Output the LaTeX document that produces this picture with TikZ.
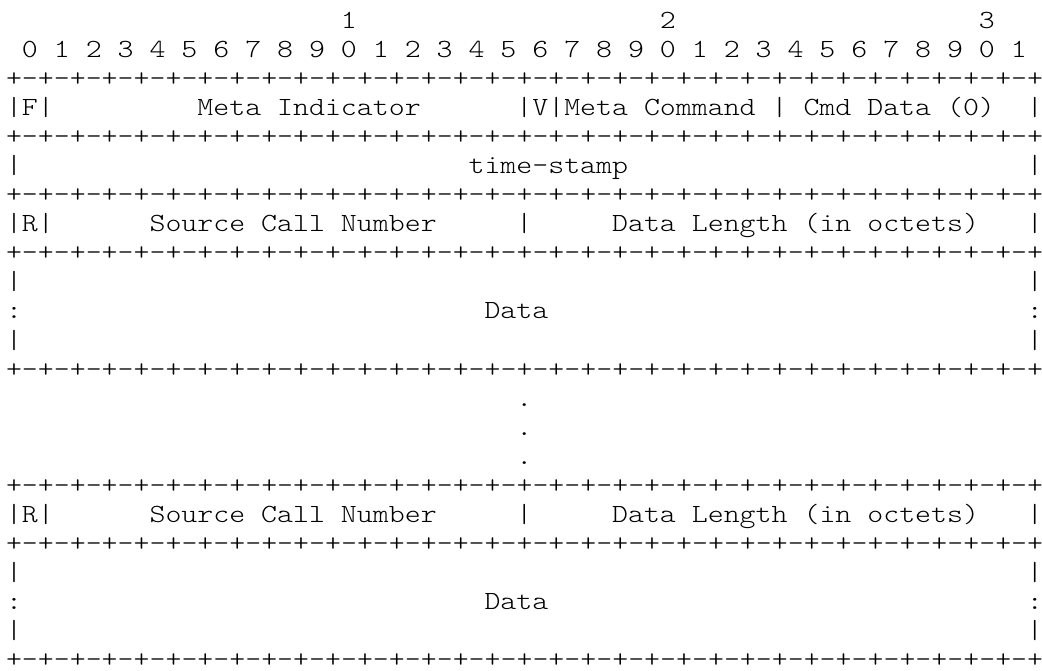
\documentclass[tikz,border=0pt]{standalone}
\usepackage{fontspec}
\newfontfamily\asciimono{lmmonolt10-regular}[Extension=.otf, FakeStretch=1.16]
\def\pp{-+-+-+-+-+-+-+-+}
\def\sepline{+\pp\pp\pp\pp}
\newcommand\fld[4]{\node[txt] (#1) at ({6+15.95*#3},{-29-29.0*(#2-1)}) {#4};}
\begin{document}
\begin{tikzpicture}[x=1pt,y=1pt,
  txt/.style={anchor=base west, inner sep=0pt, outer sep=0pt, text=black,
    font={\asciimono\fontsize{26.2pt}{29pt}\selectfont}}]
\fill[white] (0,0) rectangle (1042,-671);
\useasboundingbox (0,0) rectangle (1042,-671);
% row 1: decades
\fld{dec1}{1}{21}{1}
\fld{dec2}{1}{41}{2}
\fld{dec3}{1}{61}{3}
% row 2: bit numbers
\foreach \i in {0,...,31}{
  \pgfmathtruncatemacro\d{mod(\i,10)}
  \pgfmathtruncatemacro\c{2*\i+1}
  \fld{b\i}{2}{\c}{\d}
}
% separator lines
\foreach \r in {3,5,7,9,13,17,19,23}{
  \fld{sep\r}{\r}{0}{\sepline}
}
% row 4
\fld{F}{4}{0}{|F|}
\fld{metaind}{4}{12}{Meta Indicator}
\fld{V}{4}{32}{|V|}
\fld{metacmd}{4}{35}{Meta Command}
\fld{bar4a}{4}{48}{|}
\fld{cmddata}{4}{50}{Cmd Data (0)}
\fld{bar4b}{4}{64}{|}
% row 6
\fld{bar6a}{6}{0}{|}
\fld{ts}{6}{29}{time-stamp}
\fld{bar6b}{6}{64}{|}
% row 8 and 18
\foreach \r in {8,18}{
  \fld{R\r}{\r}{0}{|R|}
  \fld{scn\r}{\r}{9}{Source Call Number}
  \fld{mid\r}{\r}{32}{|}
  \fld{dl\r}{\r}{38}{Data Length (in octets)}
  \fld{end\r}{\r}{64}{|}
}
% data blocks
\foreach \r in {10,12,20,22}{
  \fld{l\r}{\r}{0}{|}
  \fld{r\r}{\r}{64}{|}
}
\foreach \r in {11,21}{
  \fld{lc\r}{\r}{0}{:}
  \fld{data\r}{\r}{30}{Data}
  \fld{rc\r}{\r}{64}{:}
}
% ellipsis dots
\foreach \r in {14,15,16}{
  \fld{dot\r}{\r}{32}{.}
}
\end{tikzpicture}
\end{document}
